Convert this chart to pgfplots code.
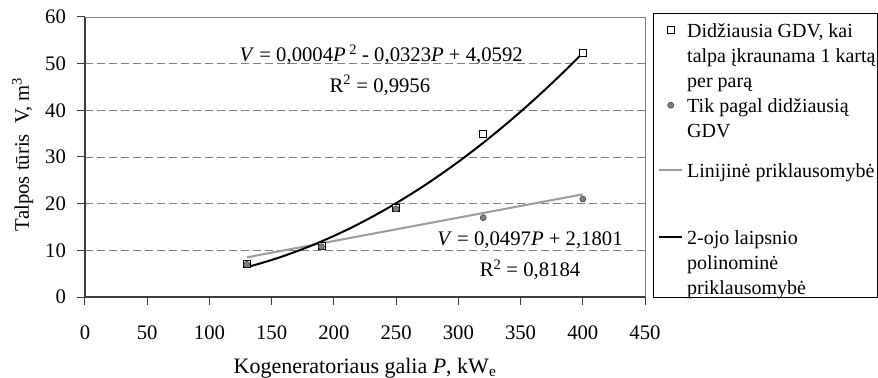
\documentclass[border=0pt]{standalone}
\usepackage{pgfplots}
\pgfplotsset{compat=1.18}
\usepackage{fontspec}
\setmainfont{Liberation Serif}
\definecolor{gridc}{RGB}{128,128,128}
\definecolor{linc}{RGB}{155,155,155}
\definecolor{dotc}{RGB}{128,128,128}
\definecolor{dotedge}{RGB}{70,70,70}
\definecolor{axc}{RGB}{60,60,60}
\pgfplotsset{
  markleg/.style={legend image code/.code={\draw[##1] plot coordinates {(11.5bp,1.5bp)};}},
  lineleg/.style={legend image code/.code={\draw[##1] (0bp,1.5bp) -- (23bp,1.5bp);}},
}
\begin{document}
\fontsize{20.7bp}{25bp}\selectfont
\begin{tikzpicture}
\path[use as bounding box] (-85bp,-81bp) rectangle (793bp,297bp);
\begin{axis}[
  at={(0,0)}, anchor=south west,
  scale only axis, width=560bp, height=280bp,
  xmin=0, xmax=450, ymin=0, ymax=60,
  xtick={0,50,...,450}, ytick={0,10,...,60},
  axis x line*=bottom, axis y line*=left,
  axis line style={-, line width=1.2bp, color=axc},
  tick align=outside, major tick length=8bp,
  tick style={line width=1bp, color=axc},
  ymajorgrids, grid style={gridc, line width=0.8bp, dash pattern=on 8bp off 4bp},
  /pgf/number format/assume math mode=true,
  xticklabel style={anchor=base, yshift=-34bp},
  yticklabel style={xshift=-4bp},
  xlabel={Kogeneratoriaus galia \textit{P}, kW\textsubscript{e}},
  xlabel style={at={([yshift=-76.5bp]axis description cs:0.5,0)}, anchor=base, font=\fontsize{22bp}{26bp}\selectfont},
  ylabel={Talpos tūris\ \ V, m\textsuperscript{3}},
  ylabel style={at={([xshift=-56bp]axis description cs:0,0.51)}, anchor=base},
  clip=false,
  legend cell align=left,
  legend style={draw=none, fill=none, at={(1,1)}, anchor=north west,
    xshift=13bp, yshift=-3bp, inner sep=0bp, row sep=2bp, column sep=4bp,
    font=\fontsize{20bp}{24bp}\selectfont,
    nodes={inner sep=0bp, text height=17bp, text depth=6bp}},
]
\addplot[only marks, mark=square*, mark size=3.5bp, mark options={fill=white, draw=black, line width=0.8bp}, markleg]
  coordinates {(130,7.2) (190,11) (250,19) (320,35) (400,52.3)};
\addlegendentry{Didžiausia GDV, kai}
\addlegendimage{empty legend}\addlegendentry{talpa įkraunama 1 kartą}
\addlegendimage{empty legend}\addlegendentry{per parą}
\addplot[only marks, mark=*, mark size=3bp, mark options={fill=dotc, draw=dotedge, line width=0.6bp}, markleg]
  coordinates {(130,7) (190,10.8) (250,18.9) (320,17) (400,21)};
\addlegendentry{Tik pagal didžiausią}
\addlegendimage{empty legend}\addlegendentry[text depth=21bp]{GDV}
\addplot[linc, line width=2bp, no marks, lineleg]
  coordinates {(130,8.5) (400,22.0)};
\addlegendentry{Linijinė priklausomybė}
\addlegendimage{empty legend}\addlegendentry[text height=34bp]{}
\addplot[black, line width=2bp, no marks, smooth, lineleg]
  coordinates {(130,6.40) (140,7.13) (150,7.94) (160,8.82) (170,9.78) (180,10.81) (190,11.91)
  (200,13.09) (210,14.34) (220,15.67) (230,17.07) (240,18.55) (250,20.10) (260,21.73)
  (270,23.42) (280,25.20) (290,27.05) (300,28.97) (310,30.97) (320,33.04) (330,35.19)
  (340,37.41) (350,39.70) (360,42.07) (370,44.51) (380,47.03) (390,49.62) (400,52.29)};
\addlegendentry{2-ojo laipsnio}
\addlegendimage{empty legend}\addlegendentry{polinominė}
\addlegendimage{empty legend}\addlegendentry{priklausomybė}
\draw[gridc, line width=0.8bp] (rel axis cs:0,1) -- (rel axis cs:1,1) -- (rel axis cs:1,0);
\draw[black, line width=0.8bp] ([xshift=8bp,yshift=4bp]rel axis cs:1,1) rectangle ([xshift=232bp]rel axis cs:1,0);
\node[anchor=base] at (axis cs:238,50.4) {\textit{V} = 0,0004\textit{P}\,\textsuperscript{2} - 0,0323\textit{P} + 4,0592};
\node[anchor=base] at (axis cs:237,43.9) {R\textsuperscript{2} = 0,9956};
\node[anchor=base] at (axis cs:357.6,11.1) {\textit{V} = 0,0497\textit{P} + 2,1801};
\node[anchor=base] at (axis cs:357.6,4.3) {R\textsuperscript{2} = 0,8184};
\end{axis}
\end{tikzpicture}
\end{document}
